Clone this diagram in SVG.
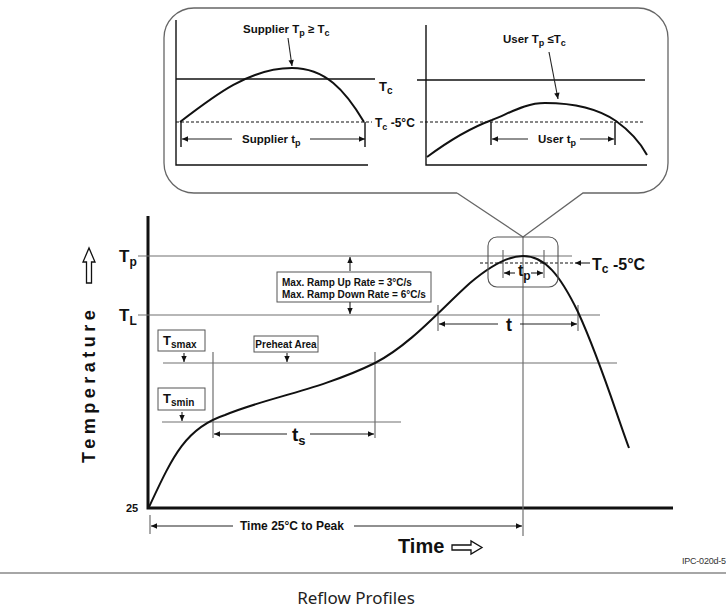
<svg xmlns="http://www.w3.org/2000/svg" width="726" height="608" viewBox="0 0 726 608">
<defs>
<marker id="ah" viewBox="0 0 10 10" refX="10" refY="5" markerWidth="7" markerHeight="6" markerUnits="userSpaceOnUse" orient="auto-start-reverse"><path d="M0,0.5 L10,5 L0,9.5 z" fill="#111"/></marker>
</defs>
<style>
.t{font-family:"Liberation Sans",Arial,sans-serif;font-weight:bold;fill:#111}
.ref{stroke:#707070;stroke-width:1.2;fill:none}
.blk{stroke:#111;stroke-width:1.4;fill:none}
.crv{stroke:#111;stroke-width:2;fill:none}
.dash{stroke:#111;stroke-width:1.2;fill:none;stroke-dasharray:3,2}
.ar{stroke:#222;stroke-width:1.1;fill:none;marker-end:url(#ah)}
.box{fill:#fff;stroke:#555;stroke-width:1}
.open{fill:#fff;stroke:#111;stroke-width:1.3}
</style>
<rect width="726" height="608" fill="#fff"/>

<g id="callout">
<path d="M457,193 L194,193 A30,30 0 0 1 164,163 L164,38 A30,30 0 0 1 194,8 L638,8 A30,30 0 0 1 668,38 L668,163 A30,30 0 0 1 638,193 L583,193 L523,237 L457,193" fill="none" stroke="#666" stroke-width="1.3"/>
</g>

<g id="supplier-panel">
<path class="blk" d="M176,20 V165 H368"/>
<path class="blk" d="M176,79 H375"/>
<path class="dash" d="M176,122 H372"/>
<path class="crv" d="M180,122 C215,95 250,68 292,68 C325,68 345,90 364,122"/>
<path class="blk" d="M181,122 V147 M365,122 V147"/>
<text class="t" x="243" y="33" font-size="11.5">Supplier T<tspan dy="3" font-size="9">p</tspan><tspan dy="-3"> ≥ T</tspan><tspan dy="3" font-size="9">c</tspan></text>
<text class="t" x="242" y="143" font-size="11.5">Supplier t<tspan dy="3" font-size="9">p</tspan></text>
<text class="t" x="379" y="91" font-size="13">T<tspan dy="3" font-size="10">c</tspan></text>
<text class="t" x="375" y="127" font-size="12">T<tspan dy="3" font-size="9">c</tspan><tspan dy="-3"> -5°C</tspan></text>
</g>

<g id="user-panel">
<path class="blk" d="M426,25 V165 H647"/>
<path class="blk" d="M417,80 H645"/>
<path class="dash" d="M420,122 H643"/>
<path class="crv" d="M427,157 C450,140 470,128 492,120 C510,113 525,103 545,103 C578,103 600,110 616,121 C630,131 640,142 647,155"/>
<path class="blk" d="M491,122 V145 M615,122 V145"/>
<text class="t" x="503" y="43" font-size="11.5">User T<tspan dy="3" font-size="9">p</tspan><tspan dy="-3"> ≤T</tspan><tspan dy="3" font-size="9">c</tspan></text>
<text class="t" x="538" y="143" font-size="11.5">User t<tspan dy="3" font-size="9">p</tspan></text>
</g>

<g id="chart-axes">
<path d="M148,216 V508 H673" stroke="#111" stroke-width="3" fill="none"/>
<text class="t" x="126" y="512" font-size="11">25</text>
<text class="t" transform="translate(95,463) rotate(-90)" font-size="18" letter-spacing="4.5">Temperature</text>
<polygon class="open" points="86.5,283 91.5,283 91.5,262 95,262 89,248 83,262 86.5,262"/>
<text class="t" x="398" y="553" font-size="20">Time</text>
<polygon class="open" points="452,545 471,545 471,541 482,547.5 471,554 471,550 452,550"/>
</g>

<g id="reference-lines">
<path class="ref" d="M138,256 H572"/>
<path class="ref" d="M138,315 H600"/>
<path class="ref" d="M163,363 H617"/>
<path class="ref" d="M162,422 H401"/>
<path class="dash" d="M480,263 H574" stroke="#333"/>
<path class="ref" d="M213,352 V438 M375,352 V438"/>
<path class="ref" d="M523,237 V536"/>
<path class="ref" d="M438,305 V331 M578,305 V331"/>
<path class="ref" d="M503,250 V278 M544,250 V278"/>
<path class="ref" d="M150,515 V534"/>
</g>

<g id="profile-curve">
<path class="crv" d="M149,507 C172,458 185,428 225,415 C265,398 320,390 375,363 C410,345 440,310 470,283 C490,266 508,256 523,256 C545,256 560,275 578,312 C600,360 615,410 629,448"/>
</g>

<g id="label-Tp"><text class="t" x="119" y="262" font-size="17">T<tspan font-size="12" dy="4">p</tspan></text></g>
<g id="label-TL"><text class="t" x="119" y="321" font-size="17">T<tspan font-size="12" dy="4">L</tspan></text></g>

<g id="box-tsmax">
<rect class="box" x="158" y="330" width="47" height="21"/>
<text class="t" x="163" y="345" font-size="13">T<tspan font-size="10" dy="3">smax</tspan></text>
</g>
<g id="box-tsmin">
<rect class="box" x="158" y="388" width="47" height="22"/>
<text class="t" x="163" y="403" font-size="13">T<tspan font-size="10" dy="3">smin</tspan></text>
</g>
<g id="box-preheat">
<rect class="box" x="254" y="336" width="64" height="16"/>
<text class="t" x="286" y="348" font-size="10" text-anchor="middle">Preheat Area</text>
</g>
<g id="box-ramp">
<rect class="box" x="277" y="272" width="154" height="30"/>
<text class="t" x="282" y="286" font-size="10">Max. Ramp Up Rate = 3°C/s</text>
<text class="t" x="282" y="298" font-size="10">Max. Ramp Down Rate = 6°C/s</text>
</g>
<g id="box-peak">
<rect x="488" y="237" width="70" height="50" rx="9" fill="none" stroke="#555" stroke-width="1.1"/>
<text class="t" x="518" y="276" font-size="16">t<tspan font-size="12" dy="4">p</tspan></text>
</g>
<g id="label-tc5"><text class="t" x="592" y="270" font-size="16">T<tspan font-size="12" dy="3">c</tspan><tspan dy="-3"> -5°C</tspan></text></g>
<g id="label-ts"><text class="t" x="292" y="441" font-size="19">t<tspan font-size="13" dy="4">s</tspan></text></g>
<g id="label-t"><text class="t" x="506" y="331" font-size="18">t</text></g>
<g id="label-time25"><text class="t" x="240" y="530" font-size="12">Time 25°C to Peak</text></g>

<g id="connectors">
<path class="ar" d="M288,38 L292,66"/>
<path class="ar" d="M549,52 L558,99"/>
<path class="ar" d="M232,139 H182"/>
<path class="ar" d="M310,139 H365"/>
<path class="ar" d="M528,139 H492"/>
<path class="ar" d="M580,139 H614"/>
<path class="ar" d="M350,271 V257"/>
<path class="ar" d="M350,302 V314"/>
<path class="ar" d="M184,353 V362"/>
<path class="ar" d="M182,412 V421"/>
<path class="ar" d="M287,353 V362"/>
<path class="ar" d="M287,434 H214"/>
<path class="ar" d="M310,434 H374"/>
<path class="ar" d="M498,324 H439"/>
<path class="ar" d="M520,324 H577"/>
<path class="ar" d="M515,273 H504"/>
<path class="ar" d="M531,273 H543"/>
<path class="ar" d="M590,263 H575"/>
<path class="ar" d="M233,526 H151"/>
<path class="ar" d="M354,526 H522"/>
</g>

<g id="footer">
<text x="682" y="564" font-family="'Liberation Sans',Arial,sans-serif" font-size="9" fill="#333" textLength="44">IPC-020d-5</text>
<path d="M0,573 H726" stroke="#888" stroke-width="1.5"/>
<text x="356" y="604" font-family="'Noto Sans','Open Sans',sans-serif" font-size="17" fill="#222" text-anchor="middle">Reflow Profiles</text>
</g>
</svg>
